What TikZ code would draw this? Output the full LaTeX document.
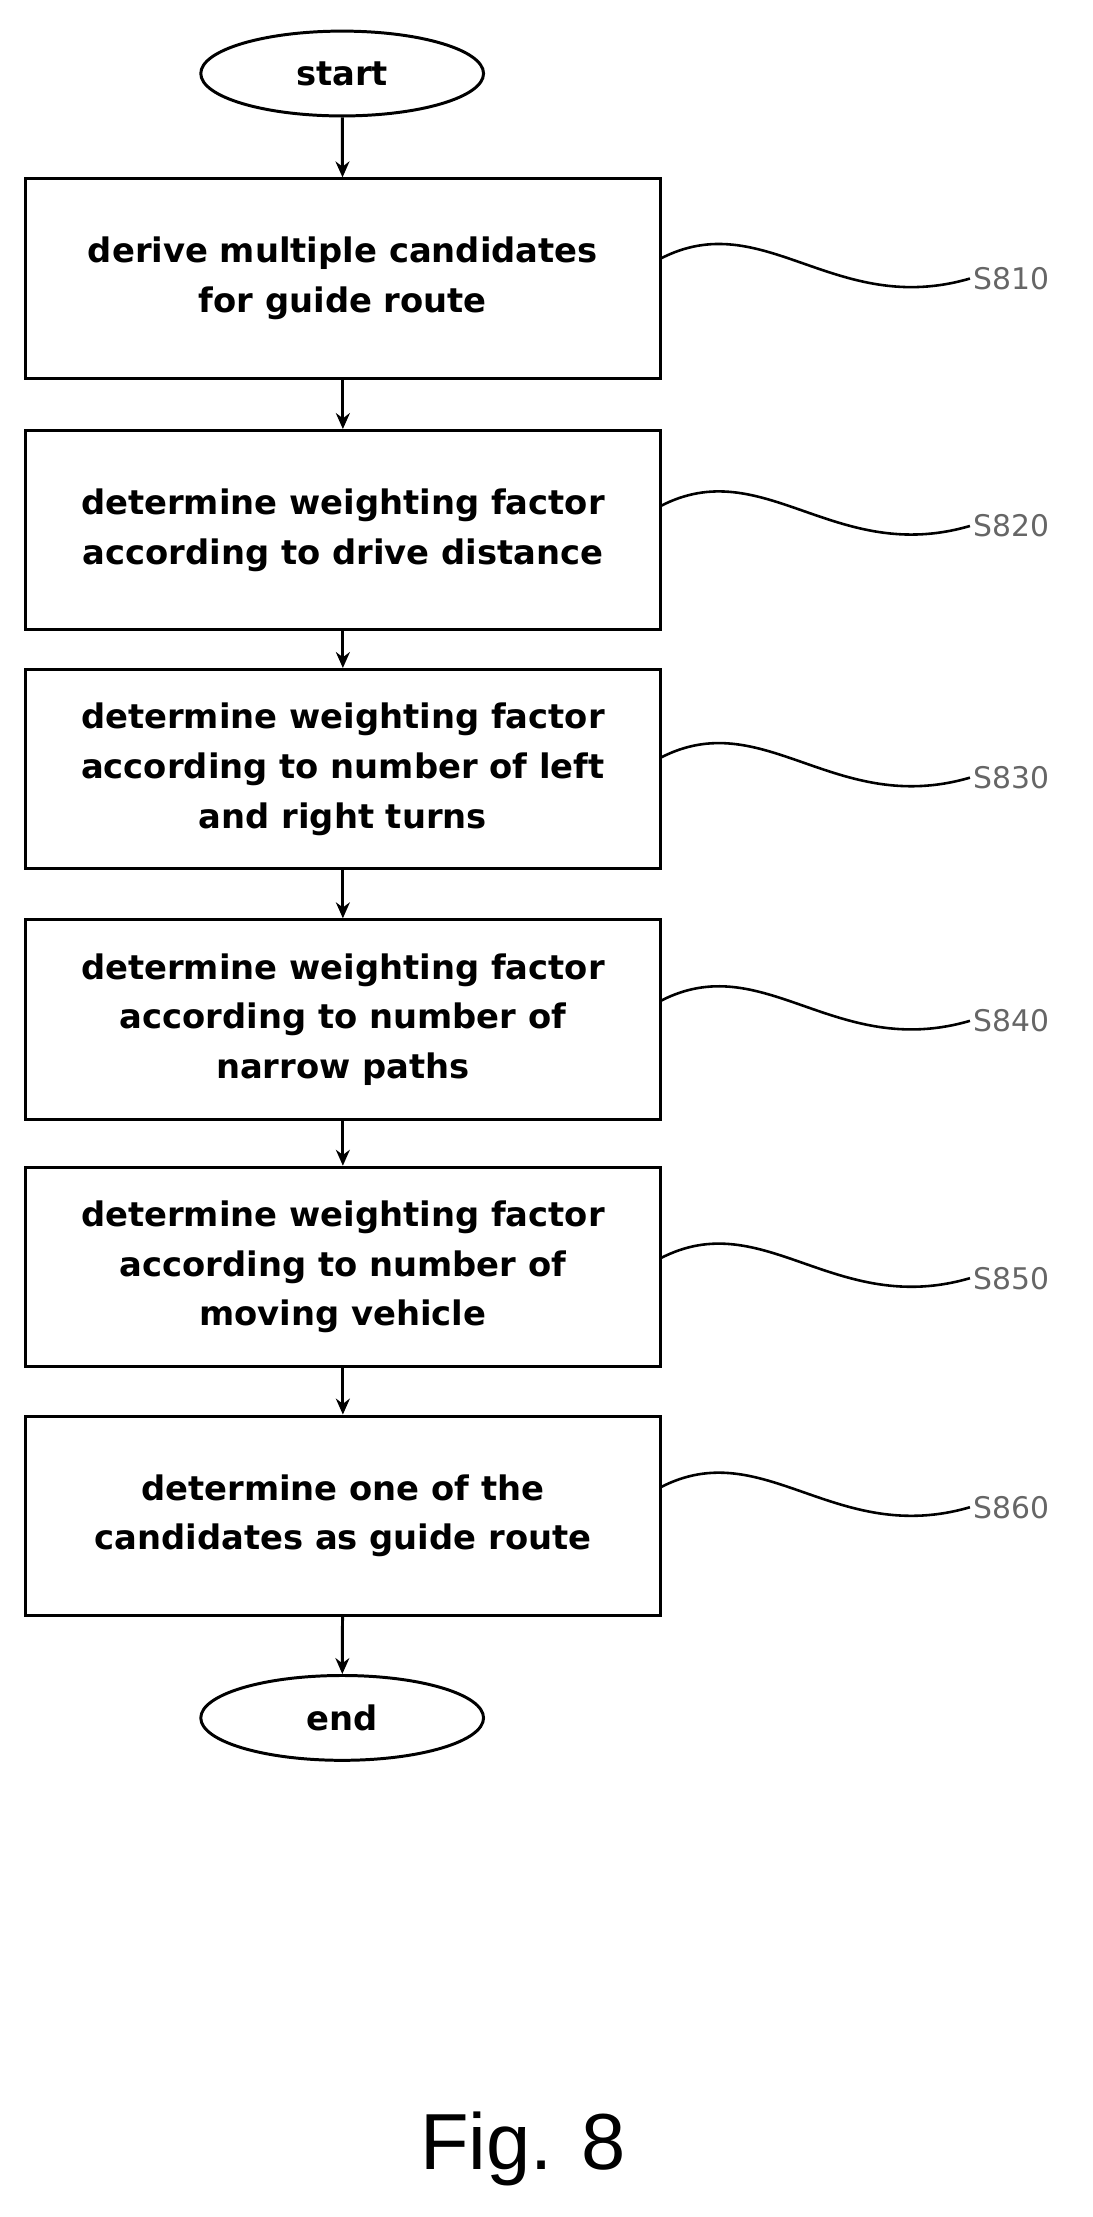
\documentclass[tikz,border=0pt]{standalone}
\usepackage{fontspec}
\setsansfont{DejaVu Sans}
\newfontfamily\figfont{Liberation Sans}
\usetikzlibrary{arrows.meta,shapes.geometric,positioning}

\begin{document}
\begin{tikzpicture}[x=0.05cm,y=-0.05cm]
		\tikzset{stepbox/.style={draw, line width=3pt, minimum width=22.45cm, minimum height=7.05cm, align=center, font=\sffamily\bfseries\fontsize{34}{50}\selectfont}}
		\tikzset{term/.style={ellipse, draw, line width=3pt, minimum width=10cm, minimum height=3cm, font=\sffamily\bfseries\fontsize{34}{40}\selectfont}}
		\tikzset{edge/.style={-{Stealth[length=16pt,width=14pt]}, line width=3pt}}
		\tikzset{lbl/.style={font=\sffamily\fontsize{30}{36}\selectfont, text=gray!80!black}}
		\tikzset{wave/.style={line width=2.6pt}}
		\useasboundingbox (0,0) rectangle (773,1568);
		%terminals
		\node[term] (start) at (242,52) {start};
		\node[term] (end) at (242,1215) {end};
		%steps
		\node[stepbox] (s810) at (242.5,197) {derive multiple candidates\\for guide route};
		\node[stepbox] (s820) at (242.5,375) {determine weighting factor\\according to drive distance};
		\node[stepbox] (s830) at (242.5,544) {determine weighting factor\\according to number of left\\and right turns};
		\node[stepbox] (s840) at (242.5,721) {determine weighting factor\\according to number of\\narrow paths};
		\node[stepbox] (s850) at (242.5,896) {determine weighting factor\\according to number of\\moving vehicle};
		\node[stepbox] (s860) at (242.5,1072) {determine one of the\\candidates as guide route};
		%edges
		\draw[edge] (start) -- (s810);
		\draw[edge] (s810) -- (s820);
		\draw[edge] (s820) -- (s830);
		\draw[edge] (s830) -- (s840);
		\draw[edge] (s840) -- (s850);
		\draw[edge] (s850) -- (s860);
		\draw[edge] (s860) -- (end);
		%labels
		\foreach \s/\y in {810/197, 820/372, 830/550, 840/722, 850/904, 860/1066} {
			\node[lbl, anchor=west] (l\s) at (686,\y) {S\s};
			\coordinate (w\s) at (467,\y-14);
			\draw[wave] (w\s) .. controls (540,\y-52) and (590,\y+28) .. (l\s.west);
		}
		\node[font=\figfont\fontsize{80}{90}\selectfont] (fig) at (370,1520) {Fig. 8};
\end{tikzpicture}
\end{document}
